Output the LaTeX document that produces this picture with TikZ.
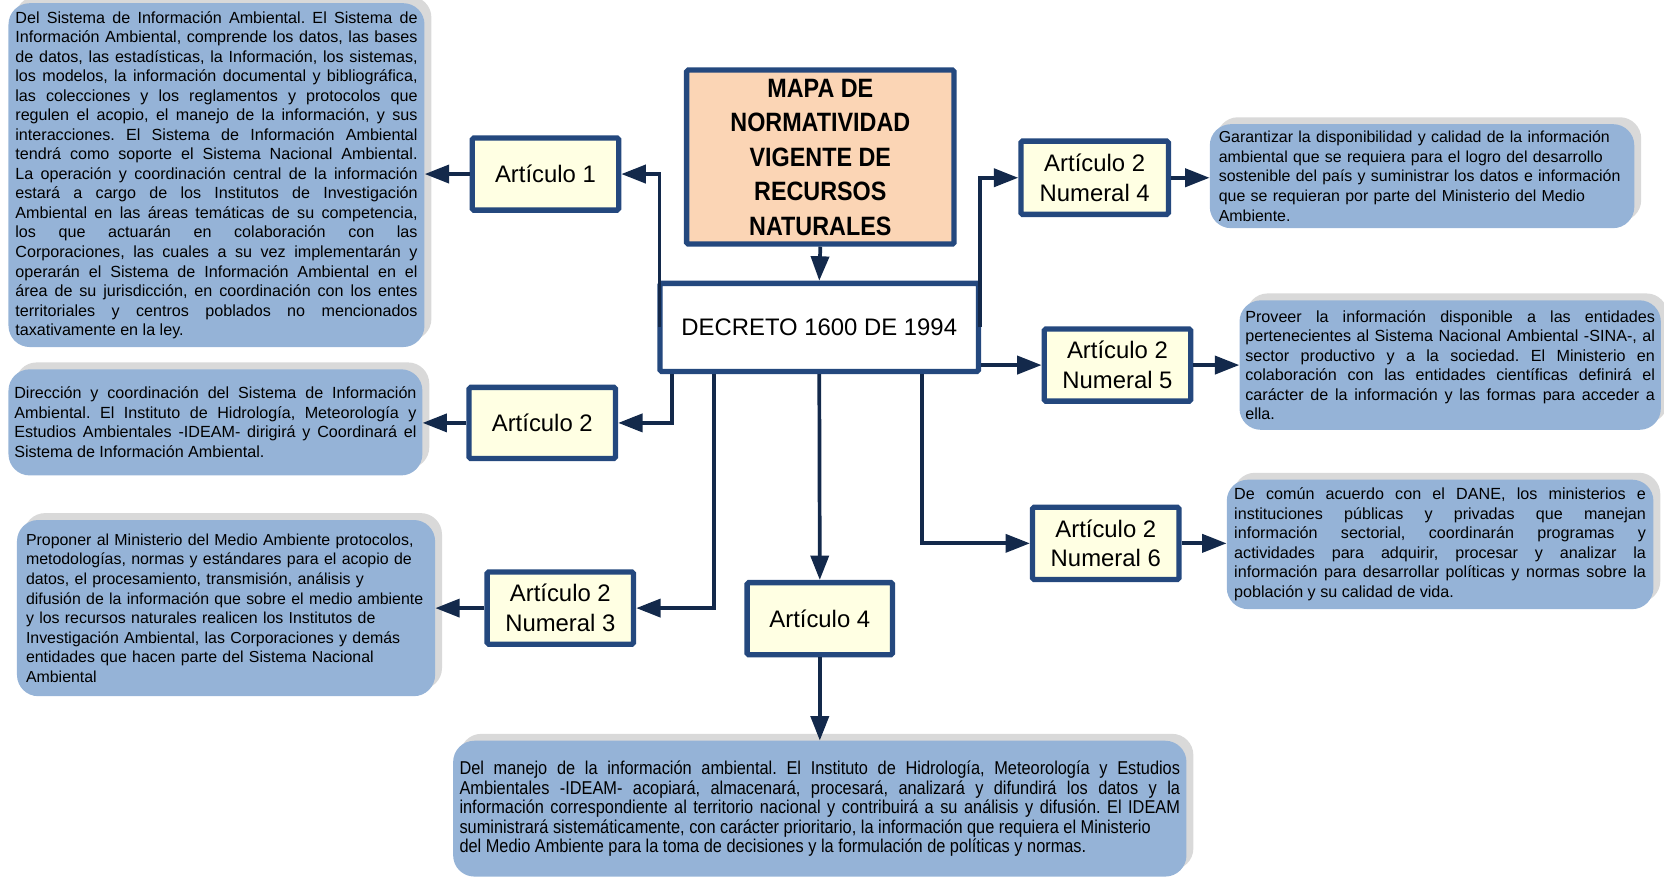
\documentclass[tikz,border=0pt]{standalone}
\usepackage{fontspec}
\setmainfont{Liberation Sans}
\newfontfamily\narrowfont{Liberation Sans}[FakeStretch=0.88]
\newfontfamily\titlefont{Liberation Sans}[FakeStretch=0.88]
\usetikzlibrary{arrows.meta,shadows,calc}
\definecolor{boxblue}{HTML}{95B3D7}
\definecolor{shadowgray}{HTML}{D9D9D9}
\definecolor{bordercol}{HTML}{24487E}
\definecolor{conncol}{HTML}{13294B}
\definecolor{artfill}{HTML}{FFFFE3}
\definecolor{peach}{HTML}{FBD5B5}
\tikzset{
  textbox/.style={fill=boxblue, rounded corners=20pt, inner sep=0pt,
    general shadow={fill=shadowgray, shadow xshift=6.5pt, shadow yshift=6.5pt},
    font=\fontsize{15.2}{18.4}\selectfont},
  raggedbox/.style={textbox, align=left, font=\fontsize{15}{18.4}\selectfont},
  artbox/.style={draw=bordercol, line width=5pt, fill=artfill, rounded corners=1.5pt,
    minimum width=138pt, minimum height=68pt, align=center, inner sep=0pt,
    font=\fontsize{22.5}{28}\selectfont},
  conn/.style={draw=conncol, line width=3.5pt, -{Triangle[length=23pt,width=17pt]}},
}
\begin{document}
\hyphenpenalty=10000
\exhyphenpenalty=10000
\tolerance=9999
\frenchspacing
\begin{tikzpicture}[x=1pt,y=-1pt]
\useasboundingbox (0,0) rectangle (1568,827.4);

% central nodes
\node[draw=bordercol, line width=5pt, fill=peach, rounded corners=1.5pt,
  minimum width=252pt, minimum height=164pt, align=center, inner sep=0pt,
  font=\titlefont\bfseries\fontsize{25}{32.5}\selectfont] (title) at (773,148)
  {MAPA DE\\NORMATIVIDAD\\VIGENTE DE\\RECURSOS\\NATURALES};
\node[draw=bordercol, line width=5pt, fill=white, rounded corners=1.5pt,
  minimum width=300pt, minimum height=83pt, inner sep=0pt,
  font=\fontsize{22.5}{28}\selectfont] (decreto) at (772,308.5) {DECRETO 1600 DE 1994};

% article boxes
\node[artbox] (art1) at (514,164) {Artículo 1};
\node[artbox, minimum height=67pt] (art2) at (511,398.5) {Artículo 2};
\node[artbox] (num3) at (528,573) {Artículo 2\\Numeral 3};
\node[artbox, minimum width=137pt] (art4) at (772.5,583) {Artículo 4};
\node[artbox, minimum width=139pt, minimum height=69pt] (num4) at (1031.5,167.5) {Artículo 2\\Numeral 4};
\node[artbox] (num5) at (1053,344) {Artículo 2\\Numeral 5};
\node[artbox] (num6) at (1042,512) {Artículo 2\\Numeral 6};

% text boxes
\node[textbox, minimum width=392pt, minimum height=324pt, text width=379pt, align=justify] (A) at (204,165)
{Del Sistema de Información Ambiental. El Sistema de\linebreak
Información Ambiental, comprende los datos, las bases\linebreak
de datos, las estadísticas, la Información, los sistemas,\linebreak
los modelos, la información documental y bibliográfica,\linebreak
las colecciones y los reglamentos y protocolos que\linebreak
regulen el acopio, el manejo de la información, y sus\linebreak
interacciones. El Sistema de Información Ambiental\linebreak
tendrá como soporte el Sistema Nacional Ambiental.\linebreak
La operación y coordinación central de la información\linebreak
estará a cargo de los Institutos de Investigación\linebreak
Ambiental en las áreas temáticas de su competencia,\linebreak
los que actuarán en colaboración con las\linebreak
Corporaciones, las cuales a su vez implementarán y\linebreak
operarán el Sistema de Información Ambiental en el\linebreak
área de su jurisdicción, en coordinación con los entes\linebreak
territoriales y centros poblados no mencionados\linebreak
taxativamente en la ley.};

\node[textbox, minimum width=390pt, minimum height=100pt, text width=379pt, align=justify] (B) at (203,398)
{Dirección y coordinación del Sistema de Información\linebreak
Ambiental. El Instituto de Hidrología, Meteorología y\linebreak
Estudios Ambientales -IDEAM- dirigirá y Coordinará el\linebreak
Sistema de Información Ambiental.};

\node[raggedbox, minimum width=394pt, minimum height=166pt, text width=377pt] (C) at (213,573)
{\mbox{Proponer al Ministerio del Medio Ambiente protocolos,}\\
\mbox{metodologías, normas y estándares para el acopio de}\\
\mbox{datos, el procesamiento, transmisión, análisis y}\\
\mbox{difusión de la información que sobre el medio ambiente}\\
\mbox{y los recursos naturales realicen los Institutos de}\\
\mbox{Investigación Ambiental, las Corporaciones y demás}\\
\mbox{entidades que hacen parte del Sistema Nacional}\\
\mbox{Ambiental}};

\node[raggedbox, minimum width=400pt, minimum height=98pt, text width=383pt] (D) at (1340,166)
{\mbox{Garantizar la disponibilidad y calidad de la información}\\
\mbox{ambiental que se requiera para el logro del desarrollo}\\
\mbox{sostenible del país y suministrar los datos e información}\\
\mbox{que se requieran por parte del Ministerio del Medio}\\
\mbox{Ambiente.}};

\node[textbox, minimum width=397pt, minimum height=122pt, text width=386pt, align=justify] (E) at (1366.5,344)
{Proveer la información disponible a las entidades\linebreak
pertenecientes al Sistema Nacional Ambiental -SINA-, al\linebreak
sector productivo y a la sociedad. El Ministerio en\linebreak
colaboración con las entidades científicas definirá el\linebreak
carácter de la información y las formas para acceder a\linebreak
ella.};

\node[textbox, minimum width=402pt, minimum height=122pt, text width=388pt, align=justify] (F) at (1357,513)
{De común acuerdo con el DANE, los ministerios e\linebreak
instituciones públicas y privadas que manejan\linebreak
información sectorial, coordinarán programas y\linebreak
actividades para adquirir, procesar y analizar la\linebreak
información para desarrollar políticas y normas sobre la\linebreak
población y su calidad de vida.};

\node[textbox, minimum width=691pt, minimum height=128pt, text width=679pt, align=justify,
  font=\narrowfont\fontsize{17.5}{18.4}\selectfont] (G) at (772.5,762)
{Del manejo de la información ambiental. El Instituto de Hidrología, Meteorología y Estudios\linebreak
Ambientales -IDEAM- acopiará, almacenará, procesará, analizará y difundirá los datos y la\linebreak
información correspondiente al territorio nacional y contribuirá a su análisis y difusión. El IDEAM\linebreak
suministrará sistemáticamente, con carácter prioritario, la información que requiera el Ministerio\\
del Medio Ambiente para la toma de decisiones y la formulación de políticas y normas.};

% connectors
\draw[conn] (title.south) -- (decreto.north);
\draw[conn] ([xshift=2pt]decreto.west) |- (art1.east);
\draw[conn] ([xshift=14pt]decreto.south west) |- (art2.east);
\draw[conn] ([xshift=53pt]decreto.south west) |- (num3.east);
\draw[conn] (decreto.south) -- (art4.north);
\draw[conn] ([xshift=-56pt]decreto.south east) |- (num6.west);
\draw[conn] (decreto.east |- num5.west) -- (num5.west);
\draw[conn] ([xshift=-1pt]decreto.east) |- (num4.west);

\draw[conn] (art1.west) -- (art1.west -| A.east);
\draw[conn] (art2.west) -- (art2.west -| B.east);
\draw[conn] (num3.west) -- (num3.west -| C.east);
\draw[conn] (art4.south) -- (art4.south |- G.north);
\draw[conn] (num4.east) -- (num4.east -| D.west);
\draw[conn] (num5.east) -- (num5.east -| E.west);
\draw[conn] (num6.east) -- (num6.east -| F.west);
\end{tikzpicture}
\end{document}
